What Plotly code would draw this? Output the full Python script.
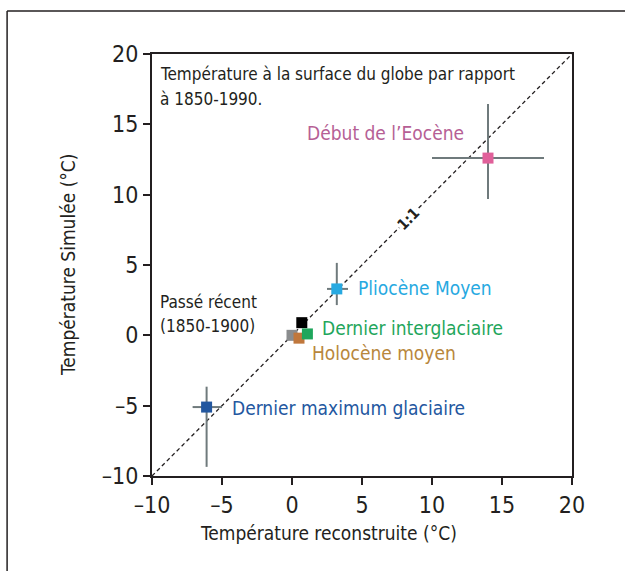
import plotly.graph_objects as go

FONT = "DejaVu Sans Condensed, Liberation Sans, sans-serif"

# Data
periods = ["Passé récent", "Repère", "Holocène moyen", "Dernier interglaciaire",
           "Pliocène Moyen", "Dernier maximum glaciaire", "Début de l'Eocène"]
recon = [0.0, 0.7, 0.5, 1.1, 3.2, -6.1, 14.0]
simul = [0.0, 0.9, -0.2, 0.1, 3.3, -5.1, 12.6]
x_err_plus = [0, 0, 0, 0, 0.8, 1.1, 4.0]
x_err_minus = [0, 0, 0, 0, 0.7, 1.0, 4.0]
y_err_plus = [0, 0, 0, 0, 1.85, 1.45, 3.85]
y_err_minus = [0, 0, 0, 0, 1.15, 4.25, 2.9]
colors = ["#8a8c8e", "#000000", "#c0773c", "#1fa65c", "#27a9e1", "#23579f", "#e0609a"]

tick_vals = [-10, -5, 0, 5, 10, 15, 20]
tick_text = ["–10", "–5", "0", "5", "10", "15", "20"]

# Labels: text, x, y, anchor, color, size
labels = [
    ("Début de l’Eocène", 12.4, 14.4, "right", "#b65f95", 19),
    ("Pliocène Moyen", 4.6, 3.4, "left", "#27a9e1", 19),
    ("Dernier interglaciaire", 2.0, 0.55, "left", "#1fa65c", 19),
    ("Holocène moyen", 1.25, -1.25, "left", "#b8873c", 19),
    ("Dernier maximum glaciaire", -4.4, -5.2, "left", "#23579f", 19),
    ("Passé récent", -9.6, 2.37, "left", "#231f20", 17),
    ("(1850-1900)", -9.6, 0.67, "left", "#231f20", 17),
    ("Température à la surface du globe par rapport", -9.6, 18.58, "left", "#231f20", 17),
    ("à 1850-1990.", -9.6, 16.8, "left", "#231f20", 17),
]

fig = go.Figure()

# 1:1 line
fig.add_trace(go.Scatter(x=[-10, 20], y=[-10, 20], mode="lines",
                         line=dict(color="#231f20", width=1.3, dash="4px,3px"),
                         hoverinfo="skip", showlegend=False))

fig.add_trace(go.Scatter(
    x=recon, y=simul, mode="markers", text=periods,
    marker=dict(symbol="square", size=11, color=colors),
    error_x=dict(type="data", symmetric=False, array=x_err_plus, arrayminus=x_err_minus,
                 color="#6f7a7c", thickness=2, width=0),
    error_y=dict(type="data", symmetric=False, array=y_err_plus, arrayminus=y_err_minus,
                 color="#6f7a7c", thickness=2, width=0),
    showlegend=False))

annotations = []
for t, x, y, anc, c, s in labels:
    annotations.append(dict(x=x, y=y, xref="x", yref="y", text=t, showarrow=False,
                            xanchor=anc, yanchor="middle", align="left",
                            font=dict(family=FONT, size=s, color=c)))
annotations.append(dict(x=8.3, y=8.3, xref="x", yref="y", text="<b>1:1</b>", showarrow=False,
                        textangle=-45, font=dict(family=FONT, size=15, color="#231f20"),
                        bgcolor="white", borderpad=0))
# axis titles
annotations.append(dict(x=(328 - 152) / 420, y=(476 - 533) / 422, xref="paper", yref="paper",
                        text="Température reconstruite (°C)", showarrow=False,
                        xanchor="center", yanchor="middle",
                        font=dict(family=FONT, size=19, color="#231f20")))
annotations.append(dict(x=(68 - 152) / 420, y=0.5, xref="paper", yref="paper",
                        text="Température Simulée (°C)", showarrow=False, textangle=-90,
                        xanchor="center", yanchor="middle",
                        font=dict(family=FONT, size=19, color="#231f20")))

axis_common = dict(range=[-10, 20], tickvals=tick_vals, ticktext=tick_text,
                   showgrid=False, zeroline=False, showline=True, linecolor="#231f20",
                   linewidth=2, mirror=True, ticks="outside", ticklen=7, tickwidth=1.5,
                   tickcolor="#231f20",
                   tickfont=dict(family=FONT, size=23, color="#231f20"))

fig.update_layout(
    width=625, height=571,
    margin=dict(l=152, r=53, t=54, b=95),
    paper_bgcolor="white", plot_bgcolor="white",
    xaxis=dict(**axis_common),
    yaxis=dict(**axis_common),
    annotations=annotations,
    shapes=[
        dict(type="line", xref="paper", yref="paper", x0=-0.345, x1=1.2, y0=1.102, y1=1.102,
             line=dict(color="#231f20", width=1.5)),
        dict(type="line", xref="paper", yref="paper", x0=-0.345, x1=-0.345, y0=1.102, y1=-0.3,
             line=dict(color="#231f20", width=1.5)),
    ],
)

fig.write_html("out.html", config={"displayModeBar": False},
               post_script="document.body.style.margin='0';")
